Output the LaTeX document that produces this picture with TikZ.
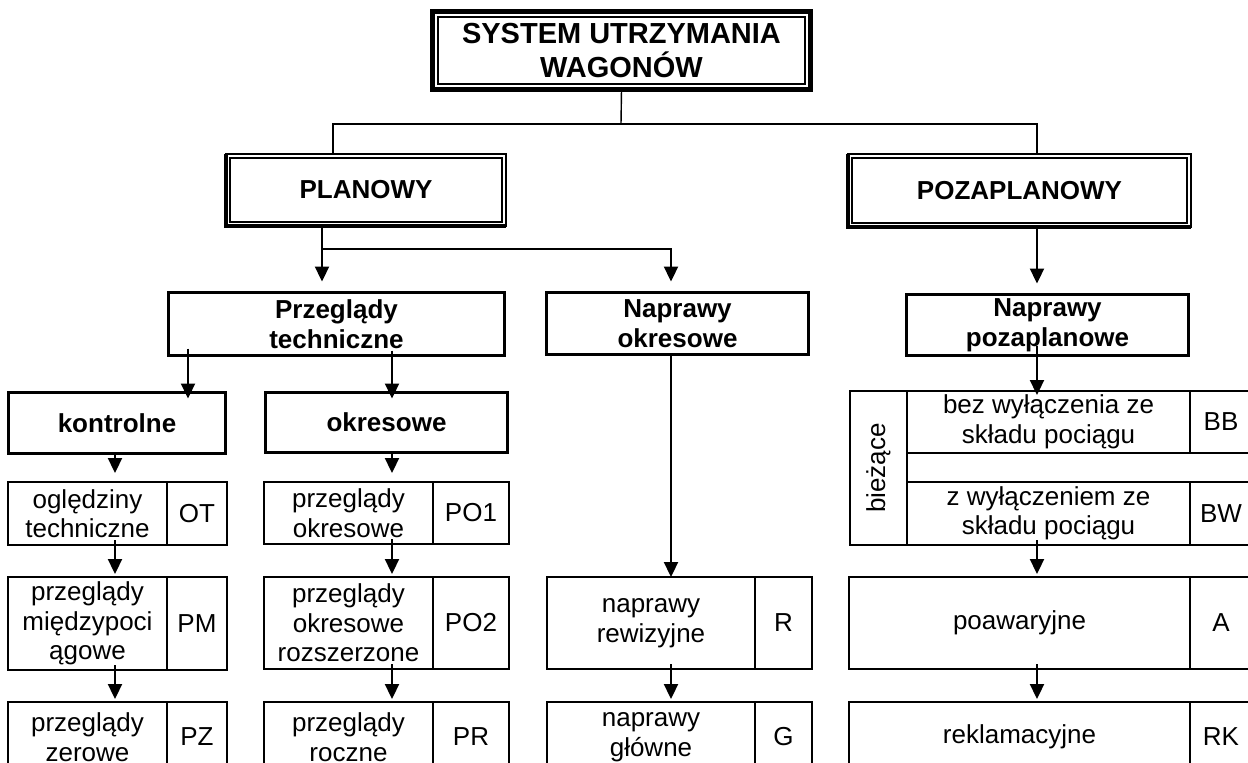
\documentclass[tikz,border=0pt]{standalone}
\usepackage{fontspec}
\setmainfont{Liberation Sans}
\usetikzlibrary{arrows.meta,positioning}
\newdimen\pxl \pxl=0.02cm

\begin{document}
\begin{tikzpicture}[x=0.02cm,y=-0.02cm,
	wh/.style 2 args={minimum width=#1*\pxl,minimum height=#2*\pxl},
	blok/.style={draw,line width=1.6pt,outer sep=0pt,inner sep=1pt,align=center,
		font=\fontsize{14.8}{16.8}\selectfont\bfseries},
	glowny/.style={blok,line width=0.8pt},
	kom/.style={draw,line width=1pt,outer sep=0pt,inner sep=1pt,align=center,
		font=\fontsize{14.8}{16.8}\selectfont},
	strz/.style={line width=1pt,-{Triangle[width=8pt,length=8.5pt]}},
	lin/.style={line width=0.8pt}]
	\useasboundingbox (0,0) rectangle (1248,762);
	\clip (0,0) rectangle (1248,762);

	% poziom 0 i 1
	\node[blok,line width=2.8pt,wh={378}{78},font=\fontsize{16.5}{19.5}\selectfont\bfseries]
		(sys) at (621.5,50.5) {SYSTEM UTRZYMANIA\\WAGONÓW};
	\draw[line width=0.7pt] ([shift={(5.5,-5.5)}]sys.south west) rectangle ([shift={(-5.5,5.5)}]sys.north east);
	\node[glowny,wh={280}{72}] (plan) at (366,190) {PLANOWY};
	\node[glowny,wh={343}{73}] (pozap) at (1019.5,190.5) {POZAPLANOWY};
	\foreach \n in {plan,pozap} {
		\draw[line width=0.6pt] ([shift={(4,-4)}]\n.south west) rectangle ([shift={(-4,4)}]\n.north east);
		\draw[line width=2.2pt] (\n.north west) -- (\n.south west) -- (\n.south east);
	}

	% poziom 2
	\node[blok,wh={336}{63}] (pt) at (336.5,324) {Przeglądy\\techniczne};
	\node[blok,wh={262}{62}] (no) at (677.5,323.5) {Naprawy\\okresowe};
	\node[blok,wh={282}{61}] (np) at (1047.5,325) {Naprawy\\pozaplanowe};
	\node[blok,wh={217}{61}] (kon) at (117,423) {kontrolne};
	\node[blok,wh={242}{60}] (okr) at (386.5,422.5) {okresowe};

	% komorki z kodami
	\foreach \n/\cx/\cy/\w/\h/\kw/\t/\k in {
		ot/87.5/513.5/159/63/60/{oględziny\\techniczne}/OT,
		pm/87.5/623.5/159/93/60/{przeglądy\\międzypoci\\ągowe}/PM,
		pz/87.5/737/159/70/60/{przeglądy\\zerowe}/PZ,
		po1/348.5/513/169/62/76/{przeglądy\\okresowe}/PO1,
		po2/348.5/623/169/92/76/{przeglądy\\okresowe\\rozszerzone}/PO2,
		pr/348.5/737/169/70/76/{przeglądy\\roczne}/PR,
		nr/651/623/208/92/57/{naprawy\\rewizyjne}/R,
		ng/651/737/208/70/57/{naprawy\\główne}/G,
		bb/1048.5/422/283/62/62/{bez wyłączenia ze\\składu pociągu}/BB,
		bw/1048.5/513.5/283/63/62/{z wyłączeniem ze\\składu pociągu}/BW,
		pa/1019.5/623/341/92/62/{poawaryjne}/A,
		rk/1019.5/737/341/70/62/{reklamacyjne}/RK} {
		\node[kom,wh={\w}{\h}] (\n) at (\cx,\cy) {\t};
		\node[kom,wh={\kw}{\h},right=0pt of \n] (\n-k) {\k};
	}
	\node[kom,rotate=90,wh={154}{57}] (bz) at (878.5,468) {bieżące};

	% polaczenia
	\coordinate (k1) at (115,0);
	\coordinate (k2) at (392,0);
	\coordinate (k3) at (671,0);
	\coordinate (k4) at (1037,0);
	\coordinate (kp) at (322,0);
	\coordinate (ks) at (333,0);
	\coordinate (kk) at (188,0);
	\coordinate (w1) at (621,124);
	\coordinate (w2) at (322,249);

	\draw[lin] (sys.south) -- (w1);
	\draw[lin] (plan.north -| ks) |- (w1) -| (pozap.north -| k4);
	\draw[strz,shorten >=11*\pxl] (plan.south -| kp) -- (pt.north -| kp);
	\draw[strz,shorten >=11*\pxl] (w2) -| (no.north -| k3);
	\draw[strz,shorten >=11*\pxl] (pozap.south -| k4) -- (np.north -| k4);
	\draw[strz,shorten <=-7*\pxl,shorten >=-6*\pxl] (pt.south -| kk) -- (kon.north -| kk);
	\draw[strz,shorten <=-5*\pxl,shorten >=-6*\pxl] (pt.south -| k2) -- (okr.north -| k2);
	\draw[strz] (no.south -| k3) -- (nr.north -| k3);
	\draw[strz,shorten <=-10*\pxl,shorten >=-4*\pxl] (np.south -| k4) -- (bb.north -| k4);
	\draw[strz,shorten >=9*\pxl] (kon.south -| k1) -- (ot.north -| k1);
	\draw[strz,shorten >=9*\pxl] (okr.south -| k2) -- (po1.north -| k2);
	\foreach \skad/\dokad/\k in {ot/pm/k1,pm/pz/k1,po1/po2/k2,po2/pr/k2,nr/ng/k3,bw/pa/k4,pa/rk/k4} {
		\draw[strz,shorten <=-5*\pxl,shorten >=3*\pxl] (\skad.south -| \k) -- (\dokad.north -| \k);
	}
\end{tikzpicture}
\end{document}
